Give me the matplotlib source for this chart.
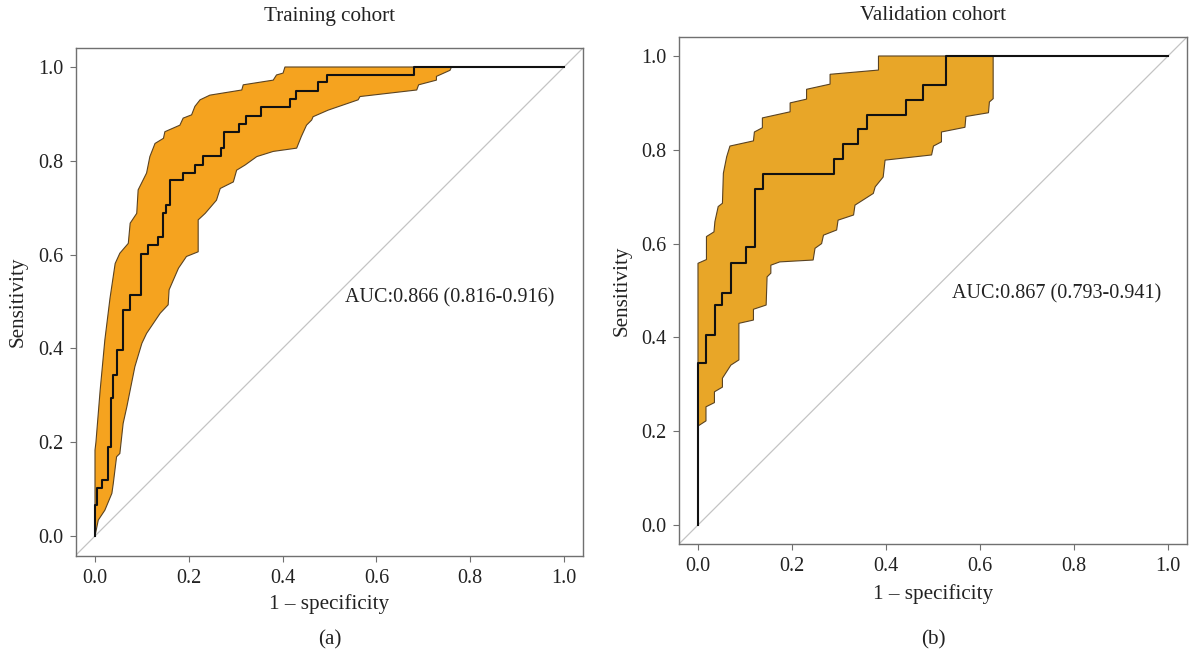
import matplotlib
matplotlib.use("Agg")
import matplotlib.pyplot as plt
import numpy as np

# ---------------- data ----------------
# Training cohort ROC (step corners: x = 1-specificity, y = sensitivity)
train_fpr = [0, 0, 0.005, 0.014, 0.027, 0.034, 0.039, 0.046, 0.059, 0.075, 0.099, 0.114,
             0.135, 0.146, 0.151, 0.16, 0.188, 0.213, 0.23, 0.268, 0.275, 0.308, 0.322,
             0.355, 0.416, 0.429, 0.476, 0.495, 0.681, 1.0]
train_tpr = [0, 0.066, 0.102, 0.119, 0.19, 0.294, 0.343, 0.397, 0.482, 0.514, 0.601, 0.62,
             0.638, 0.688, 0.706, 0.759, 0.775, 0.791, 0.81, 0.827, 0.862, 0.878, 0.896,
             0.914, 0.931, 0.948, 0.967, 0.983, 1.0, 1.0]
# Training CI band: upper (left) boundary
train_up_x = [0, 0, 0.002, 0.011, 0.021, 0.032, 0.043, 0.053, 0.071, 0.075, 0.089, 0.092,
              0.11, 0.117, 0.128, 0.146, 0.149, 0.181, 0.188, 0.206, 0.213, 0.224, 0.245,
              0.313, 0.316, 0.38, 0.387, 0.401, 0.405]
train_up_y = [0, 0.183, 0.2, 0.311, 0.418, 0.507, 0.581, 0.603, 0.624, 0.667, 0.688, 0.738,
              0.774, 0.809, 0.837, 0.848, 0.862, 0.876, 0.891, 0.898, 0.916, 0.93, 0.94,
              0.951, 0.962, 0.972, 0.983, 0.987, 1.0]
# Training CI band: lower (right) boundary
train_lo_x = [0, 0.007, 0.021, 0.036, 0.039, 0.046, 0.053, 0.06, 0.068, 0.078, 0.085, 0.1,
              0.11, 0.139, 0.156, 0.158, 0.178, 0.195, 0.22, 0.22, 0.235, 0.259, 0.267,
              0.295, 0.302, 0.32, 0.345, 0.38, 0.43, 0.44, 0.451, 0.462, 0.465, 0.497,
              0.561, 0.565, 0.686, 0.69, 0.728, 0.728, 0.757, 0.76]
train_lo_y = [0, 0.034, 0.055, 0.091, 0.112, 0.169, 0.176, 0.24, 0.276, 0.326, 0.361, 0.411,
              0.432, 0.475, 0.493, 0.525, 0.571, 0.596, 0.606, 0.674, 0.688, 0.716, 0.741,
              0.755, 0.78, 0.791, 0.809, 0.82, 0.827, 0.852, 0.876, 0.887, 0.894, 0.908,
              0.93, 0.937, 0.951, 0.962, 0.972, 0.98, 0.993, 1.0]

# Validation cohort ROC
valid_fpr = [0, 0, 0.018, 0.036, 0.052, 0.07, 0.102, 0.121, 0.138, 0.29, 0.308, 0.341,
             0.359, 0.443, 0.478, 0.527, 1.0]
valid_tpr = [0, 0.345, 0.405, 0.469, 0.495, 0.559, 0.592, 0.716, 0.748, 0.78, 0.812, 0.844,
             0.874, 0.906, 0.938, 1.0, 1.0]
valid_up_x = [0, 0, 0.018, 0.018, 0.034, 0.036, 0.043, 0.052, 0.054, 0.061, 0.068, 0.118,
              0.12, 0.137, 0.137, 0.196, 0.196, 0.231, 0.231, 0.281, 0.281, 0.384, 0.384]
valid_up_y = [0.211, 0.558, 0.566, 0.615, 0.625, 0.647, 0.679, 0.686, 0.75, 0.785, 0.808,
              0.819, 0.838, 0.847, 0.868, 0.881, 0.9, 0.908, 0.929, 0.94, 0.961, 0.97, 1.0]
valid_lo_x = [0, 0.017, 0.017, 0.035, 0.035, 0.052, 0.052, 0.07, 0.087, 0.087, 0.118, 0.118,
              0.145, 0.147, 0.155, 0.155, 0.174, 0.245, 0.249, 0.263, 0.267, 0.295, 0.298,
              0.331, 0.334, 0.373, 0.377, 0.394, 0.398, 0.497, 0.501, 0.518, 0.518, 0.568,
              0.57, 0.618, 0.62, 0.628, 0.628]
valid_lo_y = [0.211, 0.222, 0.252, 0.261, 0.284, 0.294, 0.313, 0.341, 0.352, 0.43, 0.437,
              0.46, 0.469, 0.529, 0.537, 0.554, 0.561, 0.565, 0.59, 0.6, 0.618, 0.629, 0.65,
              0.661, 0.682, 0.707, 0.721, 0.742, 0.778, 0.789, 0.808, 0.817, 0.838, 0.848,
              0.871, 0.879, 0.902, 0.909, 1.0]

ticks = [0.0, 0.2, 0.4, 0.6, 0.8, 1.0]
tick_labels = ["0.0", "0.2", "0.4", "0.6", "0.8", "1.0"]
titles = ["Training cohort", "Validation cohort"]
auc_texts = ["AUC:0.866 (0.816-0.916)", "AUC:0.867 (0.793-0.941)"]
panel_tags = ["(a)", "(b)"]

# ---------------- figure ----------------
W, H = 1189, 656
plt.rcParams['font.family'] = ['Liberation Serif', 'DejaVu Serif']
fig = plt.figure(figsize=(W / 100, H / 100), dpi=100)

def px_axes(l, t, r, b):
    return fig.add_axes([l / W, 1 - b / H, (r - l) / W, (b - t) / H])

FS = 14.5
FS_T = 15.2
spine_c = '#707070'

panels = [
    dict(box=(76, 48, 583, 556), xlim=(-0.0405, 1.0405), ylim=(-0.0426, 1.0405),
         fpr=train_fpr, tpr=train_tpr, ux=train_up_x, uy=train_up_y,
         lx=train_lo_x, ly=train_lo_y, fill='#F5A31F', auc_xy=(0.533, 0.507),
         title_y=16, xlab_y=604, tag_y=640, ylab_x=18),
    dict(box=(679, 37, 1187, 544), xlim=(-0.0404, 1.0404), ylim=(-0.0405, 1.0405),
         fpr=valid_fpr, tpr=valid_tpr, ux=valid_up_x, uy=valid_up_y,
         lx=valid_lo_x, ly=valid_lo_y, fill='#E8A628', auc_xy=(0.54, 0.4925),
         title_y=16, xlab_y=594, tag_y=640, ylab_x=622),
]

for i, p in enumerate(panels):
    l, t, r, b = p['box']
    ax = px_axes(l, t, r, b)
    ax.set_xlim(*p['xlim'])
    ax.set_ylim(*p['ylim'])
    # diagonal reference
    ax.axline((0, 0), (1, 1), color='#C4C4C4', lw=0.9, zorder=1)
    # CI band polygon
    px_ = list(p['ux']) + list(p['lx'])[::-1]
    py_ = list(p['uy']) + list(p['ly'])[::-1]
    ax.fill(px_, py_, facecolor=p['fill'], edgecolor='#5a4322', lw=0.8, zorder=2)
    # ROC step curve
    ax.plot(p['fpr'], p['tpr'], drawstyle='steps-post', color='#111111', lw=1.5, zorder=3)
    ax.text(p['auc_xy'][0], p['auc_xy'][1], auc_texts[i], ha='left', va='center',
            fontsize=FS, color='#222222')
    ax.set_xticks(ticks)
    ax.set_xticklabels(tick_labels)
    ax.set_yticks(ticks)
    ax.set_yticklabels(tick_labels)
    ax.tick_params(direction='out', length=4.3, width=0.8, color=spine_c,
                   labelsize=FS, labelcolor='#222222', pad=5)
    for s in ax.spines.values():
        s.set_color(spine_c)
        s.set_linewidth(1.0)
    cx = (l + r) / 2
    cy = (t + b) / 2
    fig.text(cx / W, 1 - p['title_y'] / H, titles[i], ha='center', va='center',
             fontsize=FS_T, color='#222222')
    fig.text(cx / W, 1 - p['xlab_y'] / H, "1 \u2013 specificity", ha='center', va='center',
             fontsize=FS_T, color='#222222')
    fig.text(cx / W, 1 - p['tag_y'] / H, panel_tags[i], ha='center', va='center',
             fontsize=FS_T, color='#222222')
    fig.text(p['ylab_x'] / W, 1 - cy / H, "Sensitivity", ha='center', va='center',
             rotation=90, fontsize=FS_T, color='#222222')

fig.savefig('out.png', dpi=100, facecolor='white')
